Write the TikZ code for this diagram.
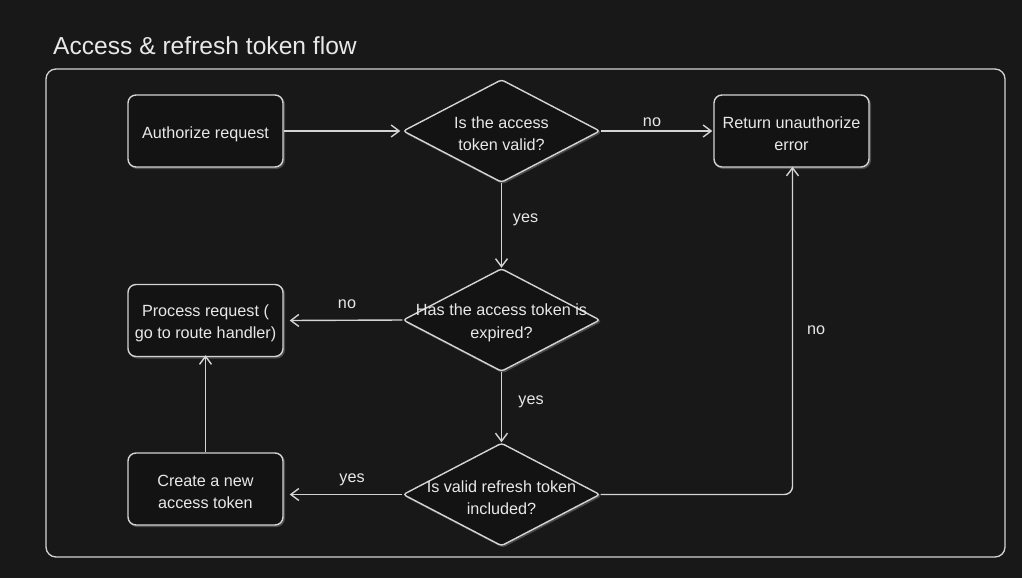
\documentclass[tikz,border=0pt]{standalone}
\usepackage{fontspec}
\setmainfont{Liberation Sans}
\usetikzlibrary{arrows.meta,shapes.geometric,shadows}
\definecolor{bg}{HTML}{181818}
\definecolor{boxfill}{HTML}{131313}
\definecolor{ln}{HTML}{D4D4D4}
\definecolor{txt}{HTML}{E8E8E8}
\definecolor{shd}{HTML}{4A4A4A}
\newcommand{\bodyfont}{\fontsize{16.2}{22.4}\selectfont}
\tikzset{
  stepbox/.style={draw=ln, line width=1.4pt, fill=boxfill, rounded corners=8pt,
    minimum width=155pt, minimum height=72pt, inner sep=0pt,
    drop shadow={shadow xshift=1.3pt, shadow yshift=-1.3pt, fill=shd, draw=shd, opacity=1}},
  decision/.style={draw=ln, line width=1.4pt, fill=boxfill, shape=diamond, rounded corners=3pt,
    minimum width=197pt, minimum height=103pt, inner sep=0pt,
    drop shadow={shadow xshift=1.3pt, shadow yshift=-1.3pt, fill=shd, draw=shd, opacity=1}},
  dtext/.style={text=txt, font=\bodyfont, align=center, yshift=-3pt},
  arr/.style={draw=ln, line width=1.4pt, -{Straight Barb[length=8pt,width=12pt,line width=1.4pt]}},
  lbl/.style={text=txt, font=\bodyfont},
}
\begin{document}
\begin{tikzpicture}[x=1pt,y=-1pt]
\useasboundingbox (0,0) rectangle (1022,578);
\fill[bg] (0,0) rectangle (1022,578);
% title
\node[anchor=base west, text=txt, font=\fontsize{24.6}{29}\selectfont, inner sep=0pt] (title) at (53,55) {Access \& refresh token flow};
% frame
\draw[ln, line width=1.3pt, rounded corners=10pt] (46,69) rectangle (1005,557);
% nodes
\node[stepbox, label={[dtext]center:Authorize request}] (auth) at (205.5,131) {};
\node[decision, label={[dtext]center:Is the access\\token valid?}] (d1) at (501.5,131) {};
\node[stepbox, label={[dtext]center:Return unauthorize\\error}] (ret) at (791.5,131) {};
\node[decision, label={[dtext]center:Has the access token is\\expired?}] (d2) at (501.5,320) {};
\node[stepbox, label={[dtext]center:Process request (\\go to route handler)}] (proc) at (205.5,320.5) {};
\node[decision, label={[dtext]center:Is valid refresh token\\included?}] (d3) at (501.5,494.5) {};
\node[stepbox, label={[dtext]center:Create a new\\access token}] (create) at (205.5,489) {};
% connectors
\draw[arr] (auth.east) -- ([xshift=-2pt]d1.west);
\draw[arr] (d1.east) -- ([xshift=-1pt]ret.west);
\draw[arr] (d1.south) -- (d2.north);
\draw[arr] (d2.west) -- ([xshift=6pt]proc.east);
\draw[arr] (d2.south) -- (d3.north);
\draw[arr] (d3.west) -- ([xshift=6pt]create.east |- d3.west);
\draw[arr] (create.north) -- ([yshift=2pt]proc.south);
\draw[arr, rounded corners=8pt] (d3.east) -| ([xshift=1pt,yshift=1pt]ret.south);
% labels
\node[lbl] (l1) at (652,122) {no};
\node[lbl] (l2) at (525.5,220) {yes};
\node[lbl] (l3) at (347,304) {no};
\node[lbl] (l4) at (531,402) {yes};
\node[lbl] (l5) at (352,480) {yes};
\node[lbl] (l6) at (816,330) {no};
\end{tikzpicture}
\end{document}
